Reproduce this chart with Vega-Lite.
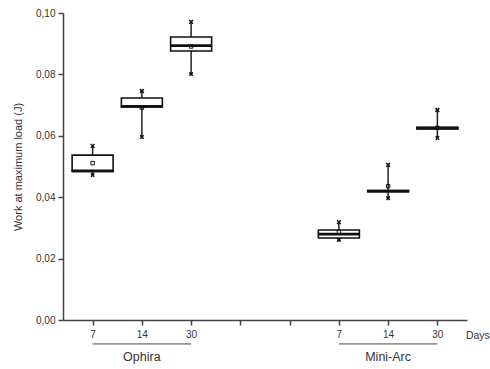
{
  "$schema": "https://vega.github.io/schema/vega-lite/v6.json",
  "autosize": "none",
  "width": 404,
  "height": 307,
  "padding": {"left": 63, "top": 13, "right": 23, "bottom": 49},
  "background": "white",
  "config": {
    "view": {"stroke": null},
    "font": "Liberation Sans",
    "axis": {"grid": false, "domainColor": "#444", "tickColor": "#444", "domainWidth": 1.5, "tickWidth": 1.5, "labelColor": "#333", "labelFont": "Liberation Sans", "labelFontSize": 10, "titleFont": "Liberation Sans", "titleFontWeight": "normal", "titleColor": "#333"}
  },
  "datasets": {
    "boxes": [
      {"group": "Ophira", "day": "7", "pos": 1, "min": 0.0472, "q1": 0.0484, "median": 0.0486, "q3": 0.0537, "max": 0.0567, "mean": 0.0511},
      {"group": "Ophira", "day": "14", "pos": 2, "min": 0.0596, "q1": 0.0694, "median": 0.0696, "q3": 0.0723, "max": 0.0746, "mean": 0.0692},
      {"group": "Ophira", "day": "30", "pos": 3, "min": 0.0801, "q1": 0.0876, "median": 0.0894, "q3": 0.0922, "max": 0.0971, "mean": 0.0891},
      {"group": "Mini-Arc", "day": "7", "pos": 6, "min": 0.0261, "q1": 0.0267, "median": 0.028, "q3": 0.0293, "max": 0.0319, "mean": 0.0287},
      {"group": "Mini-Arc", "day": "14", "pos": 7, "min": 0.0397, "q1": 0.0418, "median": 0.042, "q3": 0.0422, "max": 0.0505, "mean": 0.0436},
      {"group": "Mini-Arc", "day": "30", "pos": 8, "min": 0.0593, "q1": 0.0622, "median": 0.0625, "q3": 0.0628, "max": 0.0684, "mean": 0.0626}
    ],
    "groups": [
      {"label": "Ophira", "start": 1, "end": 3, "mid": 2},
      {"label": "Mini-Arc", "start": 6, "end": 8, "mid": 7}
    ]
  },
  "layer": [
    {
      "data": {"name": "boxes"},
      "mark": {"type": "rule", "color": "#222", "strokeWidth": 1.5},
      "encoding": {
        "x": {"field": "pos", "type": "quantitative", "scale": {"domain": [0.5, 8.5], "nice": false, "zero": false},
          "axis": {"title": null, "values": [1, 2, 3, 4, 5, 6, 7, 8], "tickSize": 5, "labelPadding": 4,
            "labelExpr": "['','7','14','30','','','7','14','30'][datum.value]"}},
        "y": {"field": "min", "type": "quantitative", "scale": {"domain": [0, 0.1], "nice": false},
          "axis": {"title": "Work at maximum load (J)", "titleFontSize": 11, "titlePadding": 12,
            "values": [0, 0.01, 0.02, 0.03, 0.04, 0.05, 0.06, 0.07, 0.08, 0.09, 0.1], "tickSize": 5, "labelPadding": 3,
            "labelExpr": "round(datum.value*100) % 2 == 0 ? replace(format(datum.value, '.2f'), '.', ',') : ''"}},
        "y2": {"field": "max"}
      }
    },
    {
      "data": {"name": "boxes"},
      "mark": {"type": "bar", "width": 41, "fill": "white", "stroke": "#111", "strokeWidth": 1.6},
      "encoding": {
        "x": {"field": "pos", "type": "quantitative"},
        "y": {"field": "q1", "type": "quantitative"},
        "y2": {"field": "q3"}
      }
    },
    {
      "data": {"name": "boxes"},
      "mark": {"type": "tick", "orient": "horizontal", "size": 42, "thickness": 2.8, "color": "#111", "opacity": 1},
      "encoding": {
        "x": {"field": "pos", "type": "quantitative"},
        "y": {"field": "median", "type": "quantitative"}
      }
    },
    {
      "data": {"name": "boxes"},
      "mark": {"type": "point", "shape": "square", "size": 12, "color": "#111", "strokeWidth": 1, "filled": false, "opacity": 1},
      "encoding": {
        "x": {"field": "pos", "type": "quantitative"},
        "y": {"field": "mean", "type": "quantitative"}
      }
    },
    {
      "data": {"name": "boxes"},
      "mark": {"type": "point", "shape": "M-1,-1L1,1M1,-1L-1,1", "size": 14, "color": "#111", "strokeWidth": 1.5, "filled": false, "opacity": 1},
      "encoding": {
        "x": {"field": "pos", "type": "quantitative"},
        "y": {"field": "max", "type": "quantitative"}
      }
    },
    {
      "data": {"name": "boxes"},
      "mark": {"type": "point", "shape": "M-1,-1L1,1M1,-1L-1,1", "size": 12, "color": "#111", "strokeWidth": 1.5, "filled": false, "opacity": 1},
      "encoding": {
        "x": {"field": "pos", "type": "quantitative"},
        "y": {"field": "min", "type": "quantitative"}
      }
    },
    {
      "data": {"name": "groups"},
      "mark": {"type": "rule", "color": "#444", "strokeWidth": 1},
      "encoding": {
        "x": {"field": "start", "type": "quantitative"},
        "x2": {"field": "end"},
        "y": {"datum": -0.0078}
      }
    },
    {
      "data": {"name": "groups"},
      "mark": {"type": "text", "fontSize": 12.5, "color": "#333", "baseline": "middle", "align": "center"},
      "encoding": {
        "x": {"field": "mid", "type": "quantitative"},
        "y": {"datum": -0.0122},
        "text": {"field": "label"}
      }
    },
    {
      "data": {"values": [{"t": "Days"}]},
      "mark": {"type": "text", "fontSize": 10.5, "color": "#333", "baseline": "middle", "align": "left"},
      "encoding": {
        "x": {"datum": 8.58},
        "y": {"datum": -0.0052},
        "text": {"field": "t"}
      }
    }
  ]
}
